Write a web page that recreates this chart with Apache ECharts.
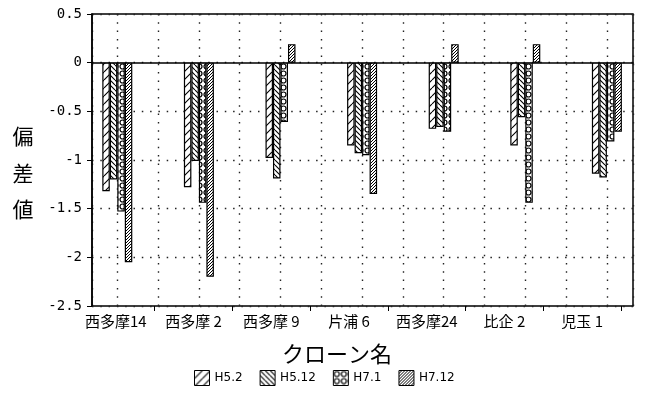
<!DOCTYPE html>
<html><head><meta charset="utf-8">
<script src="https://cdn.jsdelivr.net/npm/echarts@6/dist/echarts.min.js"></script>
<style>html,body{margin:0;padding:0;background:#fff}#c{width:648px;height:393px}</style>
</head><body><div id="c"></div><script>
// ---- data ----
const categories = ['西多摩14', '西多摩 2', '西多摩 9', '片浦 6', '西多摩24', '比企 2', '児玉 1'];
const seriesNames = ['H5.2', 'H5.12', 'H7.1', 'H7.12'];
const h5_2  = [-1.32, -1.28, -0.98, -0.85, -0.68, -0.85, -1.14];
const h5_12 = [-1.20, -1.01, -1.19, -0.93, -0.66, -0.56, -1.18];
const h7_1  = [-1.53, -1.44, -0.61, -0.95, -0.71, -1.44, -0.81];
const h7_12 = [-2.05, -2.20, 0.19, -1.35, 0.19, 0.19, -0.71];
const yMin = -2.5, yMax = 0.5, yStep = 0.5;

// ---- patterns ----
function hatch(size, dir, lw) {
  const c = document.createElement('canvas'); c.width = c.height = size;
  const g = c.getContext('2d');
  g.fillStyle = '#fff'; g.fillRect(0, 0, size, size);
  g.strokeStyle = '#000'; g.lineWidth = lw; g.beginPath();
  for (let k = -1; k <= 1; k++) {
    if (dir > 0) { g.moveTo(k * size, size); g.lineTo(k * size + size, 0); }
    else { g.moveTo(k * size, 0); g.lineTo(k * size + size, size); }
  }
  g.stroke();
  return c;
}
function circles(size) {
  const c = document.createElement('canvas'); c.width = c.height = size;
  const g = c.getContext('2d');
  g.fillStyle = '#fff'; g.fillRect(0, 0, size, size);
  g.strokeStyle = '#000'; g.lineWidth = 1.2;
  g.beginPath(); g.arc(size / 2, size / 2, size / 2 - 1, 0, Math.PI * 2); g.stroke();
  return c;
}
const patterns = [hatch(8, 1, 1.1), hatch(5, -1, 1.1), circles(7), hatch(3, 1, 1)];
const values = [h5_2, h5_12, h7_1, h7_12];

const dotted = { type: [1.5, 6.8], color: '#222', width: 1.4 };

const chart = echarts.init(document.getElementById('c'), null, { renderer: 'canvas' });
chart.setOption({
  animation: false,
  backgroundColor: '#fff',
  grid: [
    { left: 92, right: 15, top: 14, bottom: 87, show: true, borderColor: '#000', borderWidth: 1.5, backgroundColor: 'transparent' },
    { left: 77, right: 27, top: 14, bottom: 87 }
  ],
  xAxis: [
    {
      type: 'value', gridIndex: 0, min: -0.31, max: 6.32, splitNumber: 13,
      axisLabel: { show: false }, axisTick: { show: false },
      axisLine: { show: true, onZero: true, lineStyle: { color: '#000', width: 1.5 } },
      splitLine: { show: true, lineStyle: dotted }
    },
    {
      type: 'category', gridIndex: 1, data: categories, boundaryGap: true,
      axisLine: { show: false },
      axisTick: { show: true, length: 5, lineStyle: { color: '#000', width: 1 }, interval: function (i) { return i !== 0; } },
      axisLabel: { interval: 0, fontSize: 15, color: '#000', margin: 8, fontFamily: '"Noto Sans CJK JP", sans-serif' },
      splitLine: { show: false }
    }
  ],
  yAxis: [
    {
      type: 'value', gridIndex: 0, min: yMin, max: yMax, interval: yStep,
      axisLine: { show: true, onZero: false, lineStyle: { color: '#000', width: 1.5 } },
      axisTick: { show: true, inside: false, length: 5, lineStyle: { color: '#000', width: 1 } },
      axisLabel: { fontSize: 14, color: '#000', margin: 10, fontFamily: '"DejaVu Sans Mono", monospace' },
      splitLine: { show: true, lineStyle: dotted }
    },
    { type: 'value', gridIndex: 1, show: false }
  ],
  legend: {
    data: seriesNames, left: 189, top: 365, itemWidth: 15, itemHeight: 15, itemGap: 17,
    icon: 'rect',
    itemStyle: { borderColor: '#000', borderWidth: 1 },
    textStyle: { fontSize: 12, color: '#000', fontFamily: '"DejaVu Sans", sans-serif' }
  },
  graphic: [
    { type: 'text', x: 23, y: 173, style: { text: '偏\n差\n値', font: '21px "Noto Sans CJK JP"', lineHeight: 36.5, fill: '#000', align: 'center', verticalAlign: 'middle' } },
    { type: 'text', x: 337, y: 354, style: { text: 'クローン名', font: '22px "Noto Sans CJK JP"', fill: '#000', align: 'center', verticalAlign: 'middle' } }
  ],
  series: seriesNames.map(function (name, s) {
    return {
      type: 'bar', name: name, xAxisIndex: 0, yAxisIndex: 0,
      data: values[s].map(function (v, i) { return [i, v]; }),
      barWidth: 7.5, barGap: '0%',
      itemStyle: { color: { image: patterns[s], repeat: 'repeat' }, borderColor: '#000', borderWidth: 1.2 }
    };
  })
});
</script></body></html>
